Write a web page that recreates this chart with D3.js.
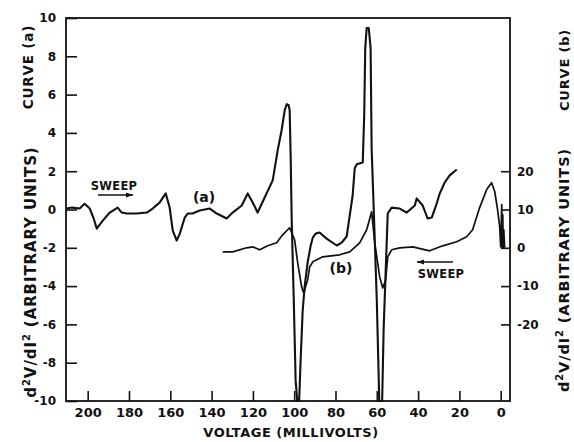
<!DOCTYPE html>
<html><head><meta charset="utf-8">
<script src="https://cdn.jsdelivr.net/npm/d3@7"></script>
<style>
body{margin:0;background:#fff;}
svg text{font-family:"DejaVu Sans",sans-serif;font-weight:bold;fill:#111;}
</style></head>
<body><svg id="c" width="574" height="442"></svg>
<script>
// Tick values
const xTicks = [200,180,160,140,120,100,80,60,40,20,0];
const yLeftTicks = [10,8,6,4,2,0,-2,-4,-6,-8,-10];
const yRightTicks = [20,10,0,-10,-20];

// Curve (a): [voltage mV, d2V/dI2 left scale]
const curveA = [
[210.5,0.05],[207.5,0.1],[203.9,0.05],[201.5,0.3],[199.0,0.05],[197.1,-0.47],[195.6,-1.0],
[192.7,-0.58],[189.3,-0.16],[185.5,0.1],[183.5,-0.16],[181.1,-0.21],[176.3,-0.21],[171.4,-0.16],
[168.5,0.05],[165.1,0.37],[162.2,0.84],[160.3,0.1],[158.8,-1.1],[156.9,-1.62],[155.4,-1.26],
[153.0,-0.42],[151.6,-0.21],[149.2,-0.21],[145.8,-0.05],[140.9,0.05],[137.5,-0.21],[132.7,-0.47],
[129.8,-0.16],[125.4,0.21],[122.5,0.84],[120.1,0.37],[117.7,-0.16],[114.3,0.63],[110.4,1.52],
[108.0,3.09],[106.1,4.14],[104.6,5.18],[103.6,5.5],[102.7,5.45],[102.2,5.18],[101.7,2.72],
[101.2,-0.58],[100.2,-4.76],[99.3,-8.95],[98.5,-10],[97.6,-10],[96.9,-7.9],[95.9,-5.3],
[94.9,-3.98],[93.5,-2.77],[92.0,-1.88],[91.0,-1.47],[89.6,-1.26],[87.7,-1.2],[84.3,-1.52],
[79.4,-1.88],[77.0,-1.73],[74.6,-1.41],[73.1,-0.31],[71.7,0.73],[70.7,2.15],[69.7,2.36],
[66.8,2.46],[66.1,4.92],[65.6,8.43],[64.9,9.48],[63.9,9.48],[63.0,8.43],[62.5,3.19],
[61.5,0.05],[60.0,-4.76],[58.8,-10],[57.4,-10],[56.7,-6.3],[55.7,-3.2],[54.7,-0.21],
[52.8,0.1],[48.9,0.05],[45.5,-0.16],[41.6,0.21],[40.7,0.58],[37.8,0.21],[35.4,-0.47],
[33.4,-0.42],[31.0,0.31],[29.5,0.84],[27.1,1.41],[24.7,1.78],[21.3,2.09]
];

// Curve (b): [voltage mV, d2V/dI2 right scale]
const curveB = [
[134.6,-1.05],[129.8,-1.05],[123.0,0],[120.1,0.26],[116.7,-0.52],[112.8,0.52],[108.5,1.31],
[105.6,3.4],[102.2,5.24],[99.8,2.09],[98.3,-3.93],[96.4,-10.2],[95.4,-11.8],[93.5,-8.4],
[92.5,-5.0],[91.0,-3.66],[86.2,-2.36],[78.0,-1.83],[73.1,-1.05],[68.3,1.31],[64.9,4.71],
[62.5,9.42],[61.0,1.31],[58.6,-7.6],[57.1,-10.5],[55.7,-8.4],[54.7,-2.36],[52.8,-0.52],
[48.9,0],[42.6,0.26],[34.4,-0.79],[28.1,0.52],[21.3,1.57],[16.5,2.88],[13.6,4.71],
[10.2,10.5],[6.8,15.2],[4.4,17.0],[2.9,14.7],[1.5,9.9],[0.5,5.5],[0,0.26],[-0.5,11.3],
[-0.7,0],[-1.0,8.6],[-1.2,0],[-1.5,4.7],[-1.9,0]
];

const svg = d3.select("#c");
const L = 66, R = 510, T = 18, B = 401;
const x = d3.scaleLinear().domain([210.5,-4.5]).range([L,R]);
const yL = d3.scaleLinear().domain([-10,10]).range([B,T]);
const yR = d3.scaleLinear().domain([-40,60]).range([B,T]);

// frame
svg.append("rect").attr("x",L).attr("y",T).attr("width",R-L).attr("height",B-T)
  .attr("fill","none").attr("stroke","#111").attr("stroke-width",1.8);

// axes
const ax = svg.append("g").attr("transform",`translate(0,${B})`)
  .call(d3.axisBottom(x).tickValues(xTicks).tickSizeInner(-10).tickSizeOuter(0).tickPadding(7).tickFormat(d3.format("d")));
const ayl = svg.append("g").attr("transform",`translate(${L},0)`)
  .call(d3.axisLeft(yL).tickValues(yLeftTicks).tickSizeInner(-11).tickSizeOuter(0).tickPadding(10).tickFormat(d=>String(d)));
const ayr = svg.append("g").attr("transform",`translate(${R},0)`)
  .call(d3.axisRight(yR).tickValues(yRightTicks).tickSizeInner(-9).tickSizeOuter(0).tickPadding(7).tickFormat(d=>String(d)));
[ax,ayl,ayr].forEach(g=>{
  g.select(".domain").remove();
  g.selectAll(".tick line").attr("stroke","#111").attr("stroke-width",1.6);
  g.selectAll("text").attr("fill","#111").style("font-family","DejaVu Sans").style("font-weight","bold");
});
ax.selectAll("text").style("font-size","13px");
ayl.selectAll("text").style("font-size","12px");
ayr.selectAll("text").style("font-size","12px");

// curves
const lineA = d3.line().x(d=>x(d[0])).y(d=>yL(d[1]));
const lineB = d3.line().x(d=>x(d[0])).y(d=>yR(d[1]));
svg.append("path").datum(curveA).attr("d",lineA).attr("fill","none")
  .attr("stroke","#111").attr("stroke-width",2.1).attr("stroke-linejoin","round");
svg.append("path").datum(curveB).attr("d",lineB).attr("fill","none")
  .attr("stroke","#111").attr("stroke-width",1.7).attr("stroke-linejoin","round");

// labels
function txt(s,xp,yp,size,rot,anchor,ls){
  const t = svg.append("text").attr("transform",`translate(${xp},${yp}) rotate(${rot||0})`)
    .attr("text-anchor",anchor||"middle").style("font-size",size+"px").text(s);
  if(ls) t.style("letter-spacing",ls+"px");
  return t;
}
txt("(a)",204,202,14);
txt("(b)",341,273,14);
txt("SWEEP",114,190,11.5,0,"middle",0.3);
txt("SWEEP",441,278,11.5,0,"middle",0.3);
txt("VOLTAGE (MILLIVOLTS)",291,437,13,0,"middle",0.5);
txt("CURVE (a)",33,67,13.5,-90,"middle",0.8);
txt("CURVE (b)",569,70,13,-90,"middle",0.8);

function ylab(xp,yp,fs){
  const t = svg.append("text").attr("transform",`translate(${xp},${yp}) rotate(-90)`)
    .attr("text-anchor","middle").style("font-size",fs+"px").style("letter-spacing","0.9px");
  t.append("tspan").text("d");
  t.append("tspan").attr("dy",-6).style("font-size","10px").text("2");
  t.append("tspan").attr("dy",6).text("V/dI");
  t.append("tspan").attr("dy",-6).style("font-size","10px").text("2");
  t.append("tspan").attr("dy",6).text(" (ARBITRARY UNITS)");
}
ylab(36,272,15);
ylab(569,270,14.5);

// sweep arrows
function arrow(x1,x2,yp){
  svg.append("line").attr("x1",x1).attr("x2",x2).attr("y1",yp).attr("y2",yp)
    .attr("stroke","#111").attr("stroke-width",1.5);
  const dir = x2>x1?1:-1;
  svg.append("path").attr("d",`M${x2},${yp} L${x2-dir*7},${yp-2.6} L${x2-dir*7},${yp+2.6} Z`).attr("fill","#111");
}
arrow(98,133,195);
arrow(453,417,262);
</script></body></html>
